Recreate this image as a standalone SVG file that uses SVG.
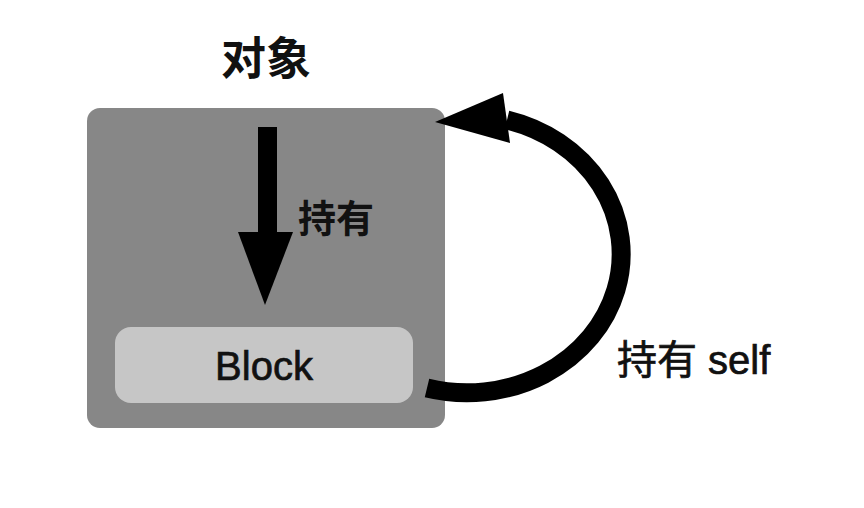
<svg xmlns="http://www.w3.org/2000/svg" width="864" height="508" viewBox="0 0 864 508">
  <style>
    .t { font-family: "Liberation Sans", "Noto Sans CJK SC", sans-serif; fill: #111; }
    .b { font-weight: bold; }
    .m { stroke: #111; stroke-width: 0.7; }
  </style>
  <rect x="0" y="0" width="864" height="508" fill="#ffffff"/>
  <g id="title">
    <text class="t b" x="266" y="75" font-size="45" text-anchor="middle">对象</text>
  </g>
  <g id="object">
    <rect x="87" y="108" width="358" height="320" rx="13" fill="#878787"/>
  </g>
  <g id="block">
    <rect x="115" y="327" width="298" height="76" rx="16" fill="#c6c6c6"/>
    <text class="t m" x="264" y="380" font-size="40" text-anchor="middle">Block</text>
  </g>
  <g id="connectors">
    <rect x="258" y="127" width="19" height="108" fill="#000"/>
    <polygon points="238,232 293,232 265,305" fill="#000"/>
    <text class="t b" x="298" y="232" font-size="38">持有</text>
    <path d="M 427 388 A 150 135 0 1 0 507 120" fill="none" stroke="#000" stroke-width="19"/>
    <polygon points="435,122 503,93 510,143" fill="#000"/>
    <text class="t m" x="617" y="374" font-size="40">持有 self</text>
  </g>
</svg>
